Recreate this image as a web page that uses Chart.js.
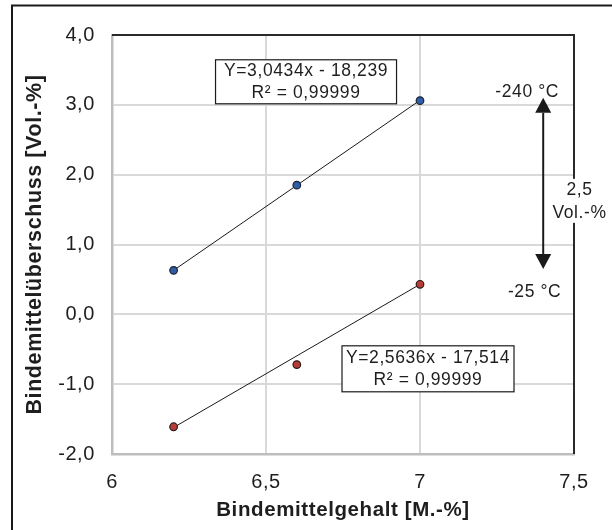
<!DOCTYPE html>
<html>
<head>
<meta charset="utf-8">
<script src="https://cdn.jsdelivr.net/npm/chart.js@4.4.1/dist/chart.umd.min.js"></script>
<style>
  html, body { margin: 0; padding: 0; background: #fff; }
  canvas { display: block; }
</style>
</head>
<body>
<canvas id="chart" width="612" height="530"></canvas>
<script>
// Messwerte
const binderContent = [6.2, 6.6, 7.0];
const excessMinus240 = [0.63, 1.85, 3.06];
const excessMinus25 = [-1.61, -0.72, 0.43];

// Trendlinien (Endpunkte)
const trendX = [6.2, 7.0];
const trendMinus240 = [0.63, 3.065];
const trendMinus25 = [-1.62, 0.43];

const xTickValues = [6, 6.5, 7, 7.5];
const xTickLabels = ['6', '6,5', '7', '7,5'];
const yTickValues = [-2, -1, 0, 1, 2, 3, 4];
const yTickLabels = ['-2,0', '-1,0', '0,0', '1,0', '2,0', '3,0', '4,0'];

const fitUpper = ['Y=3,0434x - 18,239', 'R² = 0,99999'];
const fitLower = ['Y=2,5636x - 17,514', 'R² = 0,99999'];

const TEXT = '#1e1e1e';
const FONT = 'Arial, "Liberation Sans", sans-serif';

const toPoints = (xs, ys) => xs.map((x, i) => ({ x, y: ys[i] }));

const tickLabel = (values, labels) => (v) => {
  const i = values.findIndex((t) => Math.abs(t - v) < 1e-9);
  return i >= 0 ? labels[i] : '';
};

const annotations = {
  id: 'annotations',
  beforeDraw(chart) {
    const { ctx } = chart;
    ctx.save();
    ctx.fillStyle = '#fff';
    ctx.fillRect(0, 0, chart.width, chart.height);
    ctx.strokeStyle = '#1a1a1a';
    ctx.lineWidth = 2;
    ctx.strokeRect(12, 5.5, 700, 700);
    ctx.restore();
    ctx.letterSpacing = '0.6px';
  },
  afterDatasetsDraw(chart) {
    const { ctx, chartArea: a, scales: { x, y } } = chart;
    const px = (vx, vy) => [x.getPixelForValue(vx), y.getPixelForValue(vy)];
    ctx.save();

    // oberer und rechter Rahmen des Diagrammbereichs
    ctx.strokeStyle = '#2a2a2a';
    ctx.lineWidth = 2;
    ctx.beginPath();
    ctx.moveTo(a.left, a.top);
    ctx.lineTo(a.right, a.top);
    ctx.lineTo(a.right, a.bottom);
    ctx.stroke();

    const box = (cx, cy, w, h, lines) => {
      const [bx, by] = px(cx, cy);
      ctx.fillStyle = '#fff';
      ctx.fillRect(bx - w / 2, by - h / 2, w, h);
      ctx.strokeStyle = '#1a1a1a';
      ctx.lineWidth = 1.2;
      ctx.strokeRect(bx - w / 2, by - h / 2, w, h);
      ctx.fillStyle = TEXT;
      ctx.font = '17.5px ' + FONT;
      ctx.textAlign = 'center';
      ctx.textBaseline = 'middle';
      ctx.fillText(lines[0], bx, by - 11);
      ctx.fillText(lines[1], bx, by + 11);
    };
    box(6.63, 3.33, 181, 44, fitUpper);
    box(7.026, -0.78, 172, 46, fitLower);

    // Doppelpfeil
    const [ax, ayTop] = px(7.4, 3.1);
    const [, ayBot] = px(7.4, 0.65);
    const head = 15, half = 8;
    ctx.strokeStyle = '#1a1a1a';
    ctx.fillStyle = '#1a1a1a';
    ctx.lineWidth = 2;
    ctx.beginPath();
    ctx.moveTo(ax, ayTop + head);
    ctx.lineTo(ax, ayBot - head);
    ctx.stroke();
    ctx.beginPath();
    ctx.moveTo(ax, ayTop);
    ctx.lineTo(ax - half, ayTop + head);
    ctx.lineTo(ax + half, ayTop + head);
    ctx.closePath();
    ctx.fill();
    ctx.beginPath();
    ctx.moveTo(ax, ayBot);
    ctx.lineTo(ax - half, ayBot - head);
    ctx.lineTo(ax + half, ayBot - head);
    ctx.closePath();
    ctx.fill();

    ctx.font = '17.5px ' + FONT;
    ctx.textAlign = 'center';
    ctx.textBaseline = 'middle';
    ctx.fillStyle = TEXT;
    let [tx, ty] = px(7.348, 3.18);
    ctx.fillText('-240 °C', tx, ty);
    [tx, ty] = px(7.372, 0.318);
    ctx.fillText('-25 °C', tx, ty);

    const [vx, vy] = px(7.518, 1.625);
    ctx.fillStyle = '#fff';
    ctx.fillRect(vx - 27, vy - 22, 54, 44);
    ctx.fillStyle = TEXT;
    ctx.fillText('2,5', vx, vy - 11);
    ctx.fillText('Vol.-%', vx, vy + 12);

    ctx.restore();
  },
};

new Chart(document.getElementById('chart'), {
  type: 'scatter',
  data: {
    datasets: [
      {
        label: '-240 °C',
        data: toPoints(binderContent, excessMinus240),
        backgroundColor: '#2f5da6',
        borderColor: '#1b2433',
        borderWidth: 1.2,
        pointRadius: 3.8,
        order: 1,
      },
      {
        label: '-25 °C',
        data: toPoints(binderContent, excessMinus25),
        backgroundColor: '#b83c36',
        borderColor: '#2b1a1a',
        borderWidth: 1.2,
        pointRadius: 3.8,
        order: 1,
      },
      {
        label: 'Trend -240 °C',
        data: toPoints(trendX, trendMinus240),
        showLine: true,
        borderColor: '#1a1a1a',
        borderWidth: 1,
        pointRadius: 0,
        order: 2,
      },
      {
        label: 'Trend -25 °C',
        data: toPoints(trendX, trendMinus25),
        showLine: true,
        borderColor: '#1a1a1a',
        borderWidth: 1,
        pointRadius: 0,
        order: 2,
      },
    ],
  },
  options: {
    responsive: false,
    animation: false,
    devicePixelRatio: 1,
    layout: { padding: { top: 35, right: 38, left: 0, bottom: 0 } },
    plugins: { legend: { display: false }, tooltip: { enabled: false } },
    scales: {
      x: {
        type: 'linear',
        min: 6,
        max: 7.5,
        afterBuildTicks: (s) => { s.ticks = xTickValues.map((value) => ({ value })); },
        afterFit: (s) => { s.height = 76; },
        ticks: {
          callback: tickLabel(xTickValues, xTickLabels),
          color: TEXT,
          font: { family: FONT, size: 20 },
          padding: 16,
          maxRotation: 0,
        },
        grid: { color: '#d9d9d9', lineWidth: 2, drawTicks: false },
        border: { color: '#bdbdbd', width: 2.5 },
        title: {
          display: true,
          text: 'Bindemittelgehalt [M.-%]',
          color: TEXT,
          font: { family: FONT, size: 20.5, weight: 'bold' },
          padding: { top: 0, bottom: 7 },
        },
      },
      y: {
        type: 'linear',
        min: -2,
        max: 4,
        afterBuildTicks: (s) => { s.ticks = yTickValues.map((value) => ({ value })); },
        afterFit: (s) => { s.width = 112; },
        ticks: {
          callback: tickLabel(yTickValues, yTickLabels),
          color: TEXT,
          font: { family: FONT, size: 20 },
          padding: 17,
        },
        grid: { color: '#d9d9d9', lineWidth: 2, drawTicks: false },
        border: { color: '#bdbdbd', width: 2.5 },
        title: {
          display: true,
          text: 'Bindemittelüberschuss [Vol.-%]',
          color: TEXT,
          font: { family: FONT, size: 21.5, weight: 'bold' },
          padding: { top: 22, bottom: 0 },
        },
      },
    },
  },
  plugins: [annotations],
});
</script>
</body>
</html>
